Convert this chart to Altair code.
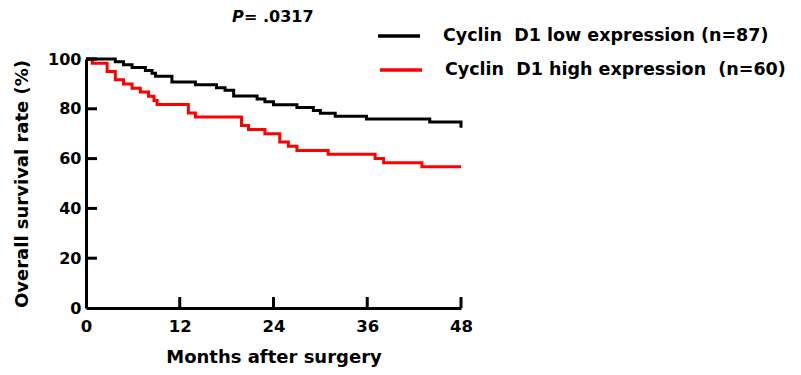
import altair as alt
import pandas as pd

# ---- data ----
months_low = [0, 3.75, 4.8, 5.9, 7.6, 8.45, 8.9, 11.0, 14.0, 16.7, 17.8, 18.9,
              21.9, 22.9, 24.0, 27.0, 29.1, 30.0, 31.9, 35.9, 44.0, 48.0]
surv_low = [100, 98.9, 97.7, 96.6, 95.4, 94.3, 93.1, 90.8, 89.7, 88.5, 87.4, 85.1,
            83.9, 82.8, 81.6, 80.5, 79.3, 78.2, 77.0, 75.9, 74.7, 72.4]

months_high = [0, 0.8, 2.7, 3.75, 4.8, 5.9, 6.95, 8.0, 8.7, 9.1, 13.1, 14.0,
               19.9, 20.8, 22.9, 24.8, 25.9, 27.0, 31.0, 37.0, 38.1, 43.0, 48.0]
surv_high = [100, 98.3, 95.0, 91.7, 90.0, 88.3, 86.7, 85.0, 83.3, 81.7, 78.3, 76.7,
             73.3, 71.7, 70.0, 66.7, 65.0, 63.3, 61.7, 60.0, 58.3, 56.7, 56.7]

x_ticks = [0, 12, 24, 36, 48]
y_ticks = [0, 20, 40, 60, 80, 100]
legend_labels = ["Cyclin\u00a0 D1 low expression (n=87)",
                 "Cyclin\u00a0 D1 high expression\u00a0 (n=60)"]
series_colors = ["#000000", "#ff0000"]
p_label = "P"
p_value = "= .0317"

FONT = "DejaVu Sans"
W, H = 375, 249

low = pd.DataFrame({"month": months_low, "surv": surv_low})
high = pd.DataFrame({"month": months_high, "surv": surv_high})

xs = alt.Scale(domain=[0, 48], nice=False, zero=False)
ys = alt.Scale(domain=[0, 100], nice=False)

x_axis = alt.Axis(values=x_ticks, tickSize=0, grid=False, domainWidth=3,
                  domainColor="black", labelFont=FONT, labelFontWeight="bold",
                  labelFontSize=16.5, labelColor="black", labelPadding=10,
                  labelFlush=False,
                  title="Months after surgery", titleFont=FONT, titleFontWeight="bold",
                  titleFontSize=18, titleColor="black", titleX=W / 2, titleY=49,
                  titleBaseline="middle", titleAlign="center")
y_axis = alt.Axis(values=y_ticks, tickSize=0, grid=False, domainWidth=3,
                  domainColor="black", labelFont=FONT, labelFontWeight="bold",
                  labelFontSize=16, labelColor="black", labelPadding=5,
                  labelFlush=False,
                  title="Overall survival rate (%)", titleFont=FONT,
                  titleFontWeight="bold", titleFontSize=18, titleColor="black",
                  titleX=-64, titleY=H / 2, titleAngle=270, titleBaseline="middle",
                  titleAlign="center")

line_high = alt.Chart(high).mark_line(interpolate="step-after", strokeWidth=3,
                                      color=series_colors[1]).encode(
    x=alt.X("month:Q", scale=xs, axis=x_axis),
    y=alt.Y("surv:Q", scale=ys, axis=y_axis),
)
line_low = alt.Chart(low).mark_line(interpolate="step-after", strokeWidth=3,
                                    color=series_colors[0]).encode(
    x=alt.X("month:Q", scale=xs),
    y=alt.Y("surv:Q", scale=ys),
)

# inward ticks
yt = pd.DataFrame({"v": y_ticks[1:]})
xt = pd.DataFrame({"v": x_ticks[1:]})
ytick = alt.Chart(yt).mark_rule(color="black", strokeWidth=3).encode(
    y=alt.Y("v:Q", scale=ys), x=alt.value(0), x2=alt.value(11))
xtick = alt.Chart(xt).mark_rule(color="black", strokeWidth=3).encode(
    x=alt.X("v:Q", scale=xs), y=alt.value(H), y2=alt.value(H - 11))

one = pd.DataFrame({"a": [0]})

def legend_entry(i, ry, sx, tx):
    r = alt.Chart(one).mark_rule(color=series_colors[i], strokeWidth=3.5).encode(
        x=alt.value(sx), x2=alt.value(sx + 42), y=alt.value(ry))
    t = alt.Chart(one).mark_text(text=legend_labels[i], font=FONT, fontWeight="bold",
                                 fontSize=17.5, align="left", baseline="middle",
                                 color="black").encode(
        x=alt.value(tx), y=alt.value(ry))
    return r + t

leg1 = legend_entry(0, -23, 292, 357)
leg2 = legend_entry(1, 11, 294, 359)

p1 = alt.Chart(one).mark_text(text=p_label, font=FONT, fontWeight="bold",
                              fontStyle="italic", fontSize=16, align="left",
                              baseline="middle", color="black").encode(
    x=alt.value(146), y=alt.value(-42))
p2 = alt.Chart(one).mark_text(text=p_value, font=FONT, fontWeight="bold",
                              fontSize=16, align="left", baseline="middle",
                              color="black").encode(
    x=alt.value(158), y=alt.value(-42))

chart = alt.layer(line_high, line_low, ytick, xtick, leg1, leg2, p1, p2).properties(
    width=W, height=H,
    autosize=alt.AutoSizeParams(type="none"),
    padding={"left": 78, "top": 51, "right": 332, "bottom": 59},
    background="white",
).configure_view(stroke=None)

chart.save("out.html", embed_options={"renderer": "svg", "actions": False})
